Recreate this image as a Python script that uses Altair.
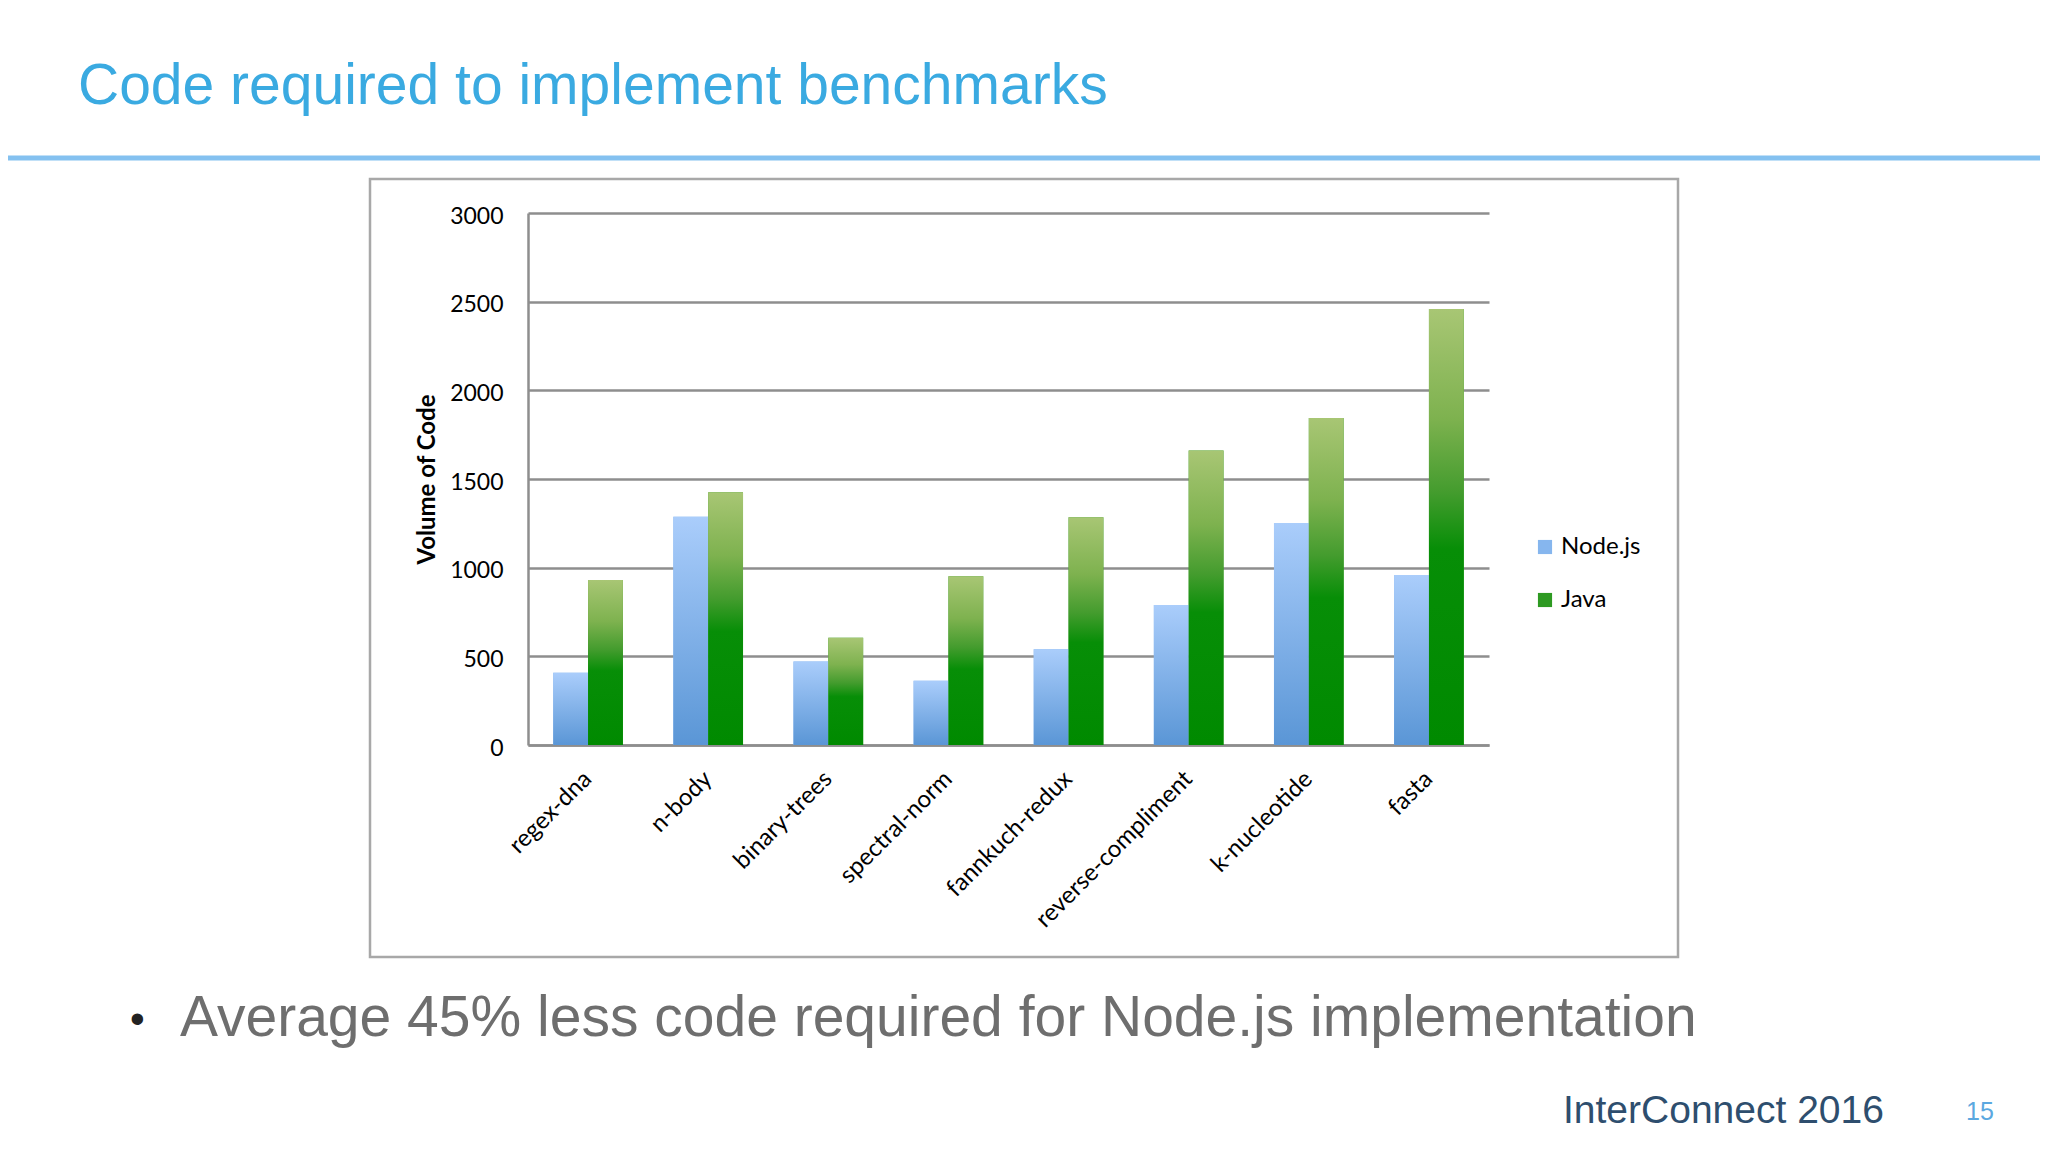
import altair as alt
import pandas as pd

benchmarks = ["regex-dna", "n-body", "binary-trees", "spectral-norm",
              "fannkuch-redux", "reverse-compliment", "k-nucleotide", "fasta"]
nodejs = [407, 1287, 471, 363, 540, 789, 1252, 958]
java = [930, 1425, 605, 951, 1285, 1661, 1844, 2458]
series = ["Node.js", "Java"]
y_ticks = [0, 500, 1000, 1500, 2000, 2500, 3000]

title_text = "Code required to implement benchmarks"
bullet_text = "Average 45% less code required for Node.js implementation"
footer_text = "InterConnect 2016"
page_text = "15"

rows = []
for b, n, j in zip(benchmarks, nodejs, java):
    rows.append({"bench": b, "series": "Node.js", "value": n})
    rows.append({"bench": b, "series": "Java", "value": j})
df = pd.DataFrame(rows)
one = pd.DataFrame({"k": [0]})

LABEL_FONT = "Lato"
GRID = "#8E8E8E"

x_enc = alt.X("bench:N", sort=benchmarks,
              scale=alt.Scale(paddingInner=0.42, paddingOuter=0.21),
              axis=alt.Axis(title=None, labelAngle=-45, labelAlign="right",
                            labelBaseline="middle", labelPadding=30, ticks=False,
                            labelLimit=0,
                            labelFont=LABEL_FONT, labelFontSize=24, labelColor="#000000",
                            domainColor=GRID, domainWidth=2.5, grid=False))
xo_enc = alt.XOffset("series:N", scale=alt.Scale(domain=series, paddingInner=0, paddingOuter=0))
y_enc = alt.Y("value:Q", scale=alt.Scale(domain=[0, 3000], nice=False),
              axis=alt.Axis(title="Volume of Code", values=y_ticks, ticks=False, format="d",
                            labelPadding=25, labelFont=LABEL_FONT, labelFontSize=23,
                            labelOffset=3,
                            labelColor="#000000", titleFont=LABEL_FONT, titleFontSize=24,
                            titleFontWeight="bold", titleColor="#000000", titlePadding=10,
                            grid=True, gridColor=GRID, gridWidth=2.5,
                            domainColor=GRID, domainWidth=2.5))

base = alt.Chart(df).encode(x=x_enc, xOffset=xo_enc, y=y_enc)

solid = base.mark_bar().encode(
    color=alt.Color("series:N", scale=alt.Scale(domain=series, range=["#86B6EE", "#2E9A22"]),
                    legend=alt.Legend(title=None, orient="none", legendX=1005, legendY=322,
                                      symbolType="square", symbolSize=200, symbolStrokeWidth=0,
                                      labelFont=LABEL_FONT, labelFontSize=24, labelColor="#000000",
                                      rowPadding=29, labelOffset=4))
)

grad_node = alt.LinearGradient(
    gradient="linear", x1=0, y1=0, x2=0, y2=1,
    stops=[alt.GradientStop(offset=0, color="#AACDFB"),
           alt.GradientStop(offset=1, color="#5A96D6")])
grad_java = alt.LinearGradient(
    gradient="linear", x1=0, y1=0, x2=0, y2=1,
    stops=[alt.GradientStop(offset=0, color="#A8C674"),
           alt.GradientStop(offset=0.25, color="#7EB24F"),
           alt.GradientStop(offset=0.42, color="#449C2E"),
           alt.GradientStop(offset=0.55, color="#078E07"),
           alt.GradientStop(offset=1, color="#008A00")])

node_bars = base.transform_filter(alt.datum.series == "Node.js").mark_bar(fill=grad_node)
java_bars = base.transform_filter(alt.datum.series == "Java").mark_bar(fill=grad_java)

frame = alt.Chart(one).mark_rect(filled=False, stroke="#A8A8A8", strokeWidth=2.5).encode(
    x=alt.value(-158), x2=alt.value(1150), y=alt.value(-34), y2=alt.value(744))

blue_line = alt.Chart(one).mark_rule(stroke="#84C1F0", strokeWidth=5).encode(
    x=alt.value(-540), x2=alt.value(1530), y=alt.value(-55))

title = alt.Chart(one).mark_text(text=title_text, align="left", baseline="alphabetic",
                                 font="Liberation Sans", fontSize=57, color="#3AAAE1").encode(
    x=alt.value(-450), y=alt.value(-109))

bullet_dot = alt.Chart(one).mark_text(text="•", align="left", baseline="alphabetic",
                                      font="Liberation Sans", fontSize=42, color="#222222").encode(
    x=alt.value(-398), y=alt.value(820))

bullet = alt.Chart(one).mark_text(text=bullet_text, align="left", baseline="alphabetic",
                                  font="Liberation Sans", fontSize=57, color="#6E6E6E").encode(
    x=alt.value(-348), y=alt.value(823))

footer = alt.Chart(one).mark_text(text=footer_text, align="left", baseline="alphabetic",
                                  font="Liberation Sans", fontSize=39, color="#2E4E6E").encode(
    x=alt.value(1035), y=alt.value(910))

page = alt.Chart(one).mark_text(text=page_text, align="left", baseline="alphabetic",
                                font="Liberation Sans", fontSize=25, color="#5BA8E0").encode(
    x=alt.value(1438), y=alt.value(907))

chart = alt.layer(frame, blue_line, solid, node_bars, java_bars,
                  title, bullet_dot, bullet, footer, page).properties(
    width=961, height=532,
    autosize=alt.AutoSizeParams(type="none"),
    padding={"left": 520, "top": 205, "right": 551, "bottom": 399},
).configure(background="#FFFFFF").configure_view(stroke=None)

chart.save("out.html", embed_options={"renderer": "svg", "actions": False})
